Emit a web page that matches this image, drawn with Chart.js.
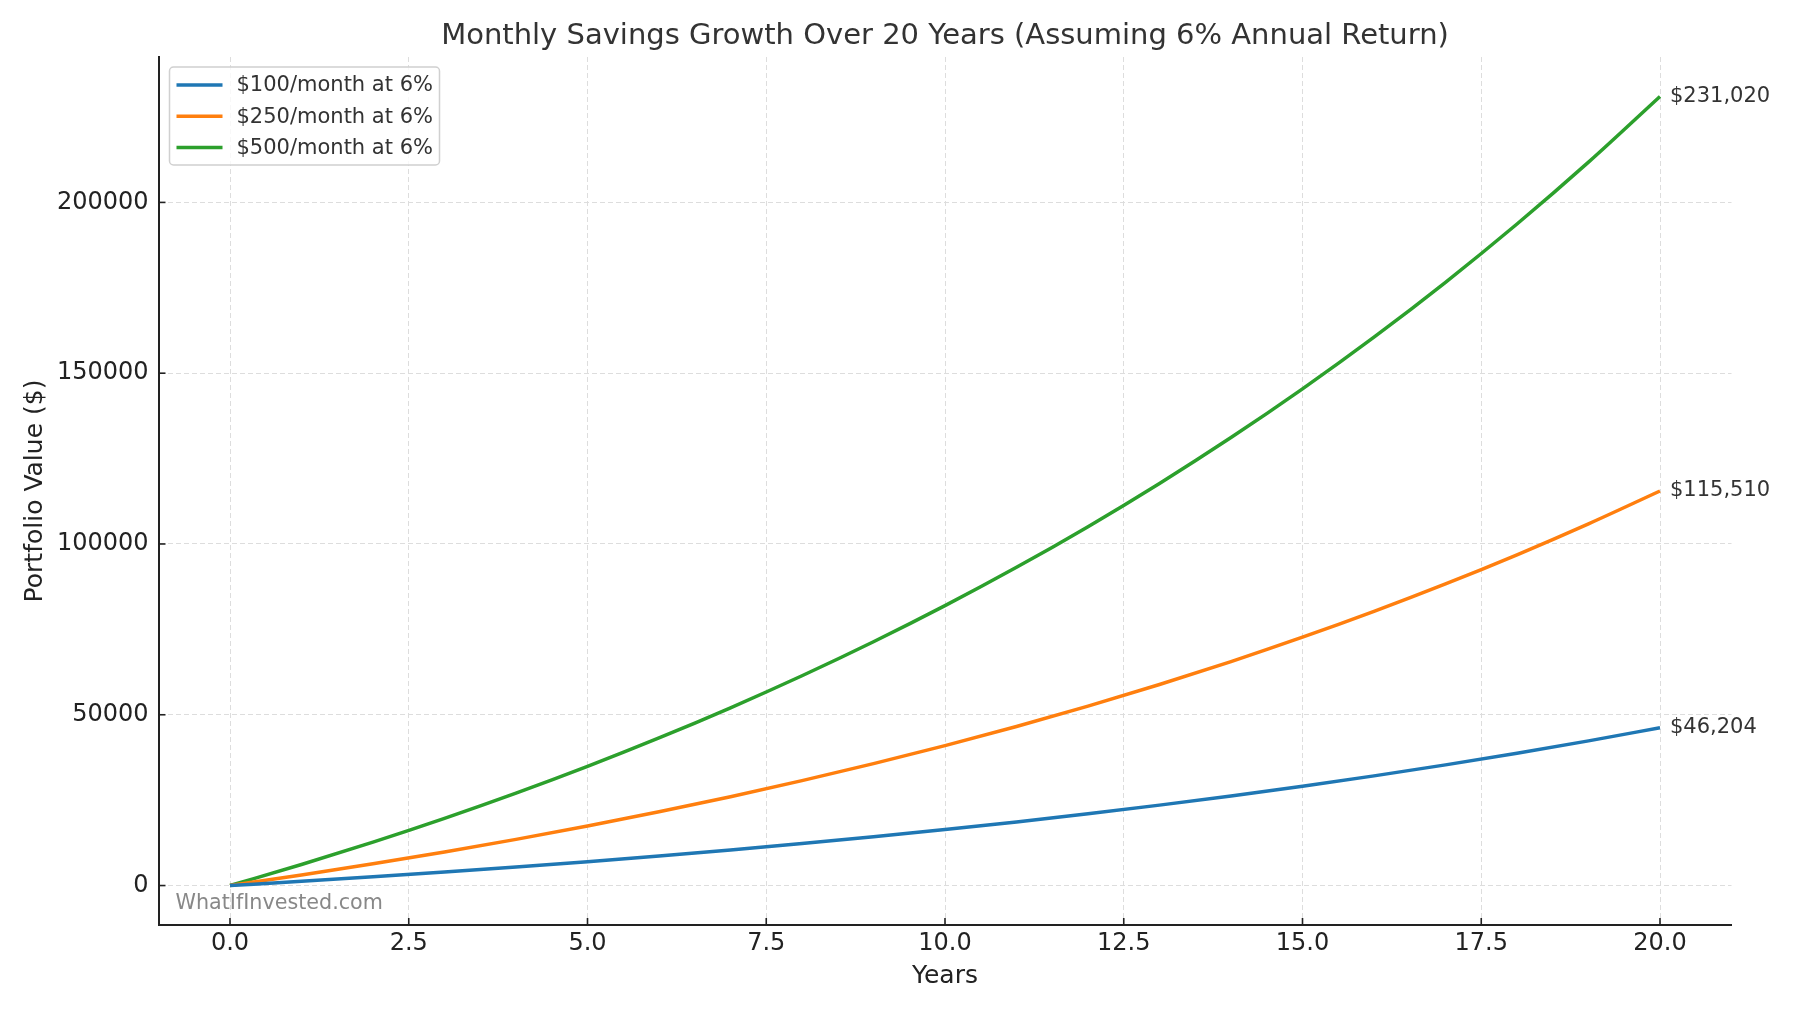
<!DOCTYPE html>
<html>
<head>
<meta charset="utf-8">
<script src="https://cdn.jsdelivr.net/npm/chart.js@4"></script>
<style>
  html, body { margin: 0; padding: 0; background: #fff; }
  #wrap { width: 1800px; height: 1012px; position: relative; }
</style>
</head>
<body>
<div id="wrap"><canvas id="container"></canvas></div>
<script>
// years 0..20, value at end of each year
const years = [0, 1, 2, 3, 4, 5, 6, 7, 8, 9, 10, 11, 12, 13, 14, 15, 16, 17, 18, 19, 20]
const save100 = [0, 1234, 2543, 3934, 5410, 6977, 8641, 10407, 12283, 14274, 16388, 18632, 21015, 23545, 26231, 29082, 32109, 35323, 38736, 42358, 46204]
const save250 = [0, 3084, 6358, 9834, 13524, 17443, 21602, 26018, 30707, 35685, 40970, 46581, 52538, 58862, 65577, 72705, 80273, 88308, 96839, 105895, 115510]
const save500 = [0, 6168, 12716, 19668, 27049, 34885, 43204, 52037, 61414, 71370, 81940, 93161, 105075, 117724, 131154, 145409, 160546, 176616, 193678, 211790, 231020]
const seriesNames = ['$100/month at 6%', '$250/month at 6%', '$500/month at 6%']
const endLabels = ['$46,204', '$115,510', '$231,020']
const xTicks = [0, 2.5, 5, 7.5, 10, 12.5, 15, 17.5, 20]
const yTicks = [0, 50000, 100000, 150000, 200000]

const colors = ['#1f77b4', '#ff7f0e', '#2ca02c']
const FONT = "'DejaVu Sans', sans-serif"

const toPoints = (vals) => years.map((yr, i) => ({ x: yr, y: vals[i] }))

const chartData = {
  datasets: [save100, save250, save500].map((vals, i) => ({
    label: seriesNames[i],
    data: toPoints(vals),
    borderColor: colors[i],
    backgroundColor: colors[i],
    borderWidth: 3.5,
    pointRadius: 0,
    cubicInterpolationMode: 'monotone',
    fill: false
  }))
}

// title, legend box, watermark, end labels, inward ticks
const extras = {
  id: 'extras',
  afterDatasetsDraw(chart) {
    const { ctx, chartArea } = chart
    const xs = chart.scales.x
    const ys = chart.scales.y
    ctx.save()

    // inward tick marks
    ctx.strokeStyle = '#222'
    ctx.lineWidth = 1.6
    xTicks.forEach(v => {
      const px = xs.getPixelForValue(v)
      ctx.beginPath()
      ctx.moveTo(px, chartArea.bottom)
      ctx.lineTo(px, chartArea.bottom - 7)
      ctx.stroke()
    })
    yTicks.forEach(v => {
      const py = ys.getPixelForValue(v)
      ctx.beginPath()
      ctx.moveTo(chartArea.left, py)
      ctx.lineTo(chartArea.left + 7, py)
      ctx.stroke()
    })

    // end of line labels
    ctx.font = '21px ' + FONT
    ctx.fillStyle = '#333'
    ctx.textAlign = 'left'
    ctx.textBaseline = 'middle'
    chart.data.datasets.forEach((ds, i) => {
      const pts = chart.getDatasetMeta(i).data
      const last = pts[pts.length - 1]
      ctx.fillText(endLabels[i], last.x + 10, last.y)
    })

    // watermark
    ctx.font = '20.7px ' + FONT
    ctx.fillStyle = '#888'
    ctx.textBaseline = 'alphabetic'
    ctx.fillText('WhatIfInvested.com', chartArea.left + 17, chartArea.bottom - 16)

    // legend
    const bx = chartArea.left + 11, by = chartArea.top + 10, bw = 270, bh = 98
    ctx.beginPath()
    ctx.roundRect(bx, by, bw, bh, 4)
    ctx.fillStyle = 'rgba(255,255,255,0.8)'
    ctx.fill()
    ctx.strokeStyle = '#d0d0d0'
    ctx.lineWidth = 1.5
    ctx.stroke()
    ctx.font = '21px ' + FONT
    ctx.textBaseline = 'middle'
    chart.data.datasets.forEach((ds, i) => {
      const ly = by + 18 + i * 31.2
      ctx.strokeStyle = ds.borderColor
      ctx.lineWidth = 3.5
      ctx.beginPath()
      ctx.moveTo(bx + 7, ly)
      ctx.lineTo(bx + 53, ly)
      ctx.stroke()
      ctx.fillStyle = '#333'
      ctx.fillText(ds.label, bx + 67, ly + 1)
    })

    // title over the plot area
    ctx.font = '29px ' + FONT
    ctx.fillStyle = '#333'
    ctx.textAlign = 'center'
    ctx.textBaseline = 'middle'
    ctx.fillText('Monthly Savings Growth Over 20 Years (Assuming 6% Annual Return)',
      (chartArea.left + chartArea.right) / 2, 36)
    ctx.restore()
  }
}

const ctx = document.querySelector('#container')
const savingsChart = new Chart(ctx, {
  type: 'line',
  data: chartData,
  plugins: [extras],
  options: {
    responsive: true,
    maintainAspectRatio: false,
    devicePixelRatio: 1,
    animation: false,
    layout: { padding: { top: 57, right: 68.5, left: 0, bottom: 0 } },
    plugins: {
      legend: { display: false },
      title: { display: false },
      tooltip: { enabled: false }
    },
    scales: {
      x: {
        type: 'linear',
        min: -1,
        max: 21,
        afterBuildTicks: scale => { scale.ticks = xTicks.map(v => ({ value: v })) },
        afterFit: scale => { scale.height = 87 },
        ticks: {
          color: '#222',
          font: { family: FONT, size: 24 },
          padding: 4,
          maxRotation: 0,
          callback: v => Number(v).toFixed(1)
        },
        grid: { color: '#dddddd', lineWidth: 1, drawTicks: false },
        border: { display: true, color: '#222', width: 2, dash: [5, 3] },
        title: {
          display: true,
          text: 'Years',
          color: '#222',
          font: { family: FONT, size: 25 },
          padding: { top: 0, bottom: 21 }
        }
      },
      y: {
        type: 'linear',
        min: -11551,
        max: 242571,
        afterBuildTicks: scale => { scale.ticks = yTicks.map(v => ({ value: v })) },
        afterFit: scale => { scale.width = 158.5 },
        ticks: {
          color: '#222',
          font: { family: FONT, size: 24 },
          padding: 10,
          callback: v => String(v)
        },
        grid: { color: '#dddddd', lineWidth: 1, drawTicks: false },
        border: { display: true, color: '#222', width: 2, dash: [5, 3] },
        title: {
          display: true,
          text: 'Portfolio Value ($)',
          color: '#222',
          font: { family: FONT, size: 25 },
          padding: { top: 20, bottom: 0 }
        }
      }
    }
  }
})
</script>
</body>
</html>
